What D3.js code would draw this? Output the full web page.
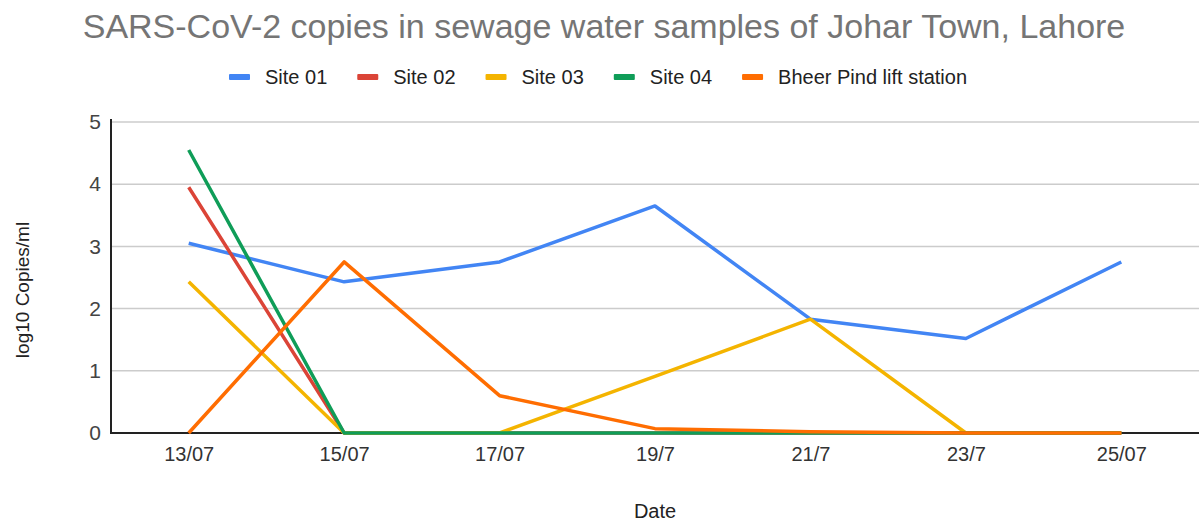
<!DOCTYPE html>
<html lang="en">
<head>
<meta charset="UTF-8">
<title>SARS-CoV-2 copies</title>
<script src="https://d3js.org/d3.v7.min.js"></script>
<style>
  body { margin: 0; background: #fff; }
  svg { display: block; font-family: "Liberation Sans", Arial, sans-serif; }
</style>
</head>
<body>
<svg id="chart" width="1199" height="522"></svg>
<script>
// data
var dates = ["13/07", "15/07", "17/07", "19/7", "21/7", "23/7", "25/07"];
var site01 = [3.05, 2.43, 2.75, 3.65, 1.83, 1.52, 2.75];
var site02 = [3.95, 0, 0, 0, 0, 0, 0];
var site03 = [2.43, 0, 0, 0.91, 1.83, 0, 0];
var site04 = [4.55, 0, 0, 0, 0, 0, 0];
var bheer  = [0, 2.75, 0.6, 0.07, 0.02, 0, 0];
var seriesNames = ["Site 01", "Site 02", "Site 03", "Site 04", "Bheer Pind lift station"];
var seriesColors = ["#4285f4", "#db4437", "#f4b400", "#0f9d58", "#ff6d01"];
var yTicks = [0, 1, 2, 3, 4, 5];

var series = [site01, site02, site03, site04, bheer].map(function (v, i) {
  return { name: seriesNames[i], color: seriesColors[i], values: v };
});

var svg = d3.select("#chart");
// plot box (top is a reserved window name, so use pTop etc)
var pLeft = 111, pRight = 1199, pTop = 122, pBottom = 433;

var x = d3.scalePoint().domain(dates).range([pLeft, pRight]).padding(0.5);
var y = d3.scaleLinear().domain([0, 5]).range([pBottom, pTop]);

// title
svg.append("text")
  .attr("x", 604).attr("y", 38)
  .attr("text-anchor", "middle")
  .attr("font-size", 34)
  .attr("fill", "#757575")
  .text("SARS-CoV-2 copies in sewage water samples of Johar Town, Lahore");

// legend
var lg = svg.append("g");
var lx = 229;
series.forEach(function (s) {
  lg.append("rect").attr("x", lx).attr("y", 74).attr("width", 21).attr("height", 6)
    .attr("rx", 1).attr("fill", s.color);
  var t = lg.append("text").attr("x", lx + 36).attr("y", 84)
    .attr("font-size", 20).attr("fill", "#222").text(s.name);
  lx += 36 + t.node().getComputedTextLength() + 30;
});

// gridlines
svg.append("g")
  .selectAll("line").data(yTicks.slice(1)).join("line")
  .attr("x1", pLeft).attr("x2", pRight)
  .attr("y1", function (d) { return y(d); }).attr("y2", function (d) { return y(d); })
  .attr("stroke", "#cccccc").attr("stroke-width", 1.5);

// y axis
var yAxis = svg.append("g").attr("transform", "translate(" + pLeft + ",0)")
  .call(d3.axisLeft(y).tickValues(yTicks).tickFormat(d3.format("d")).tickSize(0).tickPadding(10));
yAxis.select(".domain").remove();
yAxis.selectAll("text").attr("font-size", 21).attr("fill", "#444")
  .attr("font-family", "Liberation Sans, Arial, sans-serif");
svg.append("line").attr("x1", pLeft).attr("x2", pLeft).attr("y1", pTop - 3).attr("y2", pBottom + 1)
  .attr("stroke", "#222").attr("stroke-width", 2);

// x axis
var xAxis = svg.append("g").attr("transform", "translate(0," + pBottom + ")")
  .call(d3.axisBottom(x).tickSize(0).tickPadding(14));
xAxis.select(".domain").remove();
xAxis.selectAll("text").attr("font-size", 20).attr("fill", "#333")
  .attr("font-family", "Liberation Sans, Arial, sans-serif");
svg.append("line").attr("x1", pLeft).attr("x2", pRight).attr("y1", pBottom).attr("y2", pBottom)
  .attr("stroke", "#222").attr("stroke-width", 2);

// axis titles
svg.append("text").attr("x", (pLeft + pRight) / 2).attr("y", 518)
  .attr("text-anchor", "middle").attr("font-size", 20).attr("fill", "#222").text("Date");
svg.append("text").attr("transform", "translate(29,290) rotate(-90)")
  .attr("text-anchor", "middle").attr("font-size", 19).attr("fill", "#222").text("log10 Copies/ml");

// lines
var line = d3.line()
  .x(function (d, i) { return x(dates[i]); })
  .y(function (d) { return y(d); });

svg.append("g").selectAll("path").data(series).join("path")
  .attr("d", function (s) { return line(s.values); })
  .attr("fill", "none")
  .attr("stroke", function (s) { return s.color; })
  .attr("stroke-width", 3.5)
  .attr("stroke-linejoin", "round");
</script>
</body>
</html>
